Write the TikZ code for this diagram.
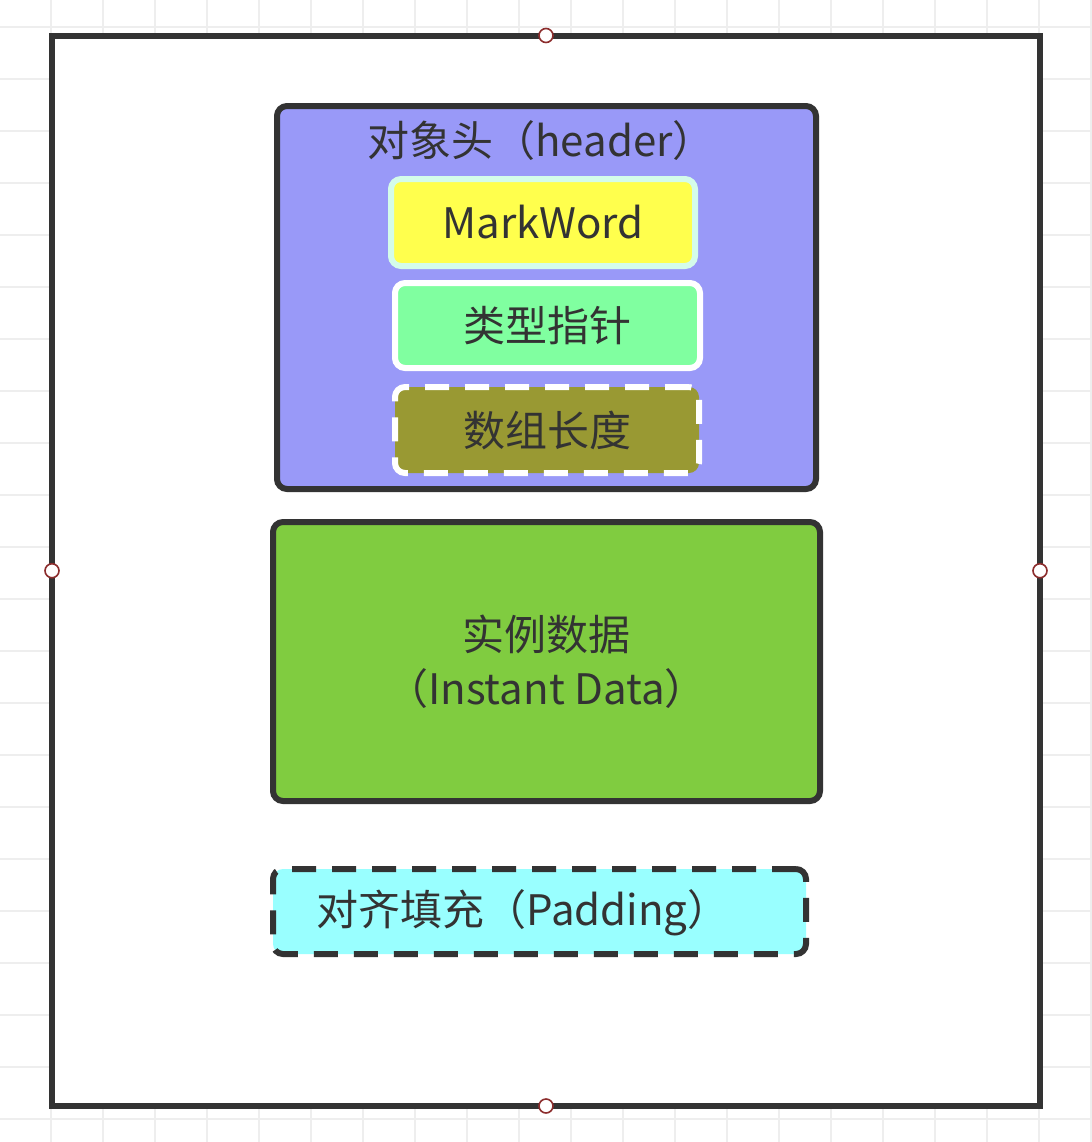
\documentclass[tikz,border=0pt]{standalone}
\usepackage{fontspec}
\setmainfont{Noto Sans CJK SC}
\usepackage{xcolor}
\usepackage{tikz}

\definecolor{edgegray}{RGB}{51,51,51}
\definecolor{headerblue}{RGB}{153,153,248}
\definecolor{markyellow}{RGB}{255,255,77}
\definecolor{markedge}{RGB}{212,252,234}
\definecolor{ptrgreen}{RGB}{128,255,160}
\definecolor{lenolive}{RGB}{153,153,51}
\definecolor{datagreen}{RGB}{128,204,64}
\definecolor{padcyan}{RGB}{153,255,255}
\definecolor{handlered}{RGB}{140,45,45}
\definecolor{gridgray}{RGB}{238,238,238}

\tikzset{
  part/.style={rectangle, rounded corners=5pt, line width=3pt, inner sep=0pt,
    text=edgegray, font=\fontsize{21}{27}\selectfont, align=center},
  handle/.style={circle, draw=handlered, fill=white, line width=0.8pt,
    minimum size=7pt, inner sep=0pt},
  gridline/.style={gridgray, line width=0.8pt}
}

\begin{document}
\begin{tikzpicture}[x=0.5pt,y=-0.5pt]
\useasboundingbox (0,0) rectangle (1092,1142);
\fill[white] (0,0) rectangle (1092,1142);
\foreach \gx in {-1,51,...,1091} \draw[gridline] (\gx,0) -- (\gx,1142);
\foreach \gy in {27,79,...,1142} \draw[gridline] (0,\gy) -- (1092,\gy);
% outer container
\node[draw=edgegray, fill=white, line width=3pt, minimum width=494pt,
  minimum height=535.25pt, inner sep=0pt, outer sep=0pt] (obj) at (546,570.75) {};
% object header
\node[part, draw=edgegray, fill=headerblue, minimum width=269.5pt, minimum height=191.5pt] (header) at (546.5,297.5) {};
\node[text=edgegray, font=\fontsize{21}{27}\selectfont] (htitle) at (541,141) {对象头（header）};
\node[part, draw=markedge, fill=markyellow, minimum width=152pt, minimum height=43.5pt] (mark) at (543,222.5) {MarkWord};
\node[part, draw=white, fill=ptrgreen, minimum width=152.5pt, minimum height=42.5pt] (ptr) at (547.5,325.5) {类型指针};
\node[part, draw=white, fill=lenolive, dash pattern=on 12pt off 8pt, minimum width=152pt, minimum height=43pt] (len) at (547,430) {数组长度};
% instance data
\node[part, draw=edgegray, fill=datagreen, minimum width=273.5pt, minimum height=139.5pt] (data) at (546.5,661.5) {实例数据\\（Instant Data）};
% padding
\node[part, draw=edgegray, fill=padcyan, dash pattern=on 12pt off 8pt, minimum width=266.5pt, minimum height=42.5pt] (pad) at (539.5,911.5) {};
\node[text=edgegray, font=\fontsize{21}{27}\selectfont] (ptitle) at (523,913) {对齐填充（Padding）};
% handles
\node[handle] (hn) at (obj.north) {};
\node[handle] (hs) at (obj.south) {};
\node[handle] (hw) at (obj.west) {};
\node[handle] (he) at (obj.east) {};
\end{tikzpicture}
\end{document}
